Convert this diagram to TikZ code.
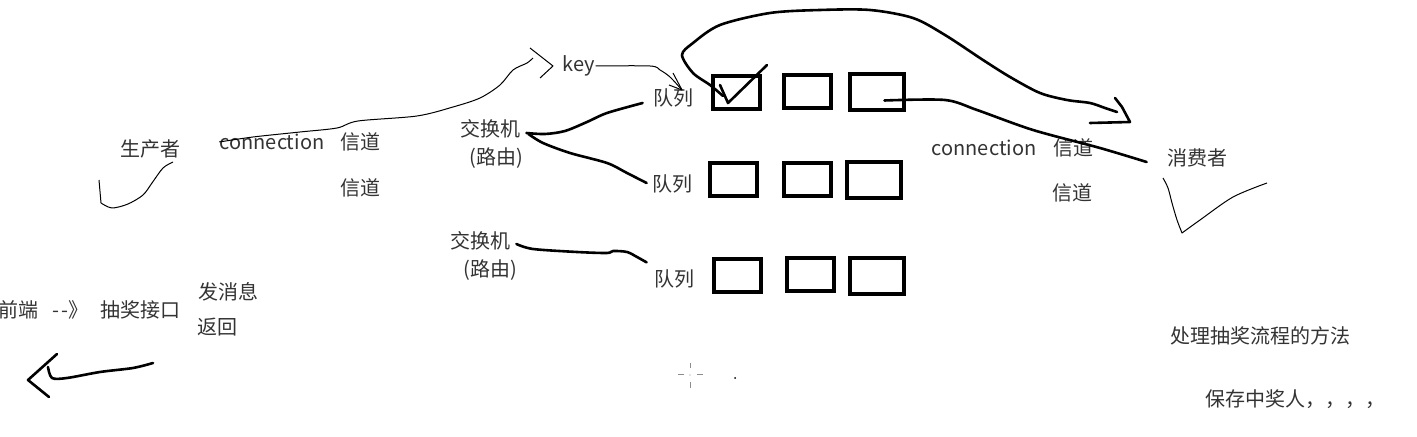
\documentclass[tikz,border=0pt]{standalone}
\usepackage{fontspec}
\setmainfont{Noto Sans CJK SC}
\usetikzlibrary{arrows.meta, positioning, calc}
\tikzset{
	note/.style={inner sep=0pt, text=black!80, font=\fontsize{10}{12}\selectfont},
	qbox/.style={draw=black, line width=2pt, minimum width=23.5pt, minimum height=16.5pt, inner sep=0pt},
	qboxw/.style={qbox, minimum width=27pt, minimum height=18pt},
	fineline/.style={draw=black, line width=0.5pt, line join=round},
	pen/.style={draw=black, line width=1.3pt, line cap=round, line join=round},
	cursor/.style={draw=black!45, line width=0.5pt},
}

\begin{document}
\begin{tikzpicture}[x=0.5pt, y=-0.5pt]
	\useasboundingbox (0,0) rectangle (1417,437);
	% producer side
	\node[note] (prod) at (150,149) {生产者};
	\node[note] (conn1) at (272,142) {connection};
	\node[note] (ch1) at (360,142) {信道};
	\node[note] (ch2) at (360,188) {信道};
	\node[note] (key) at (579,66) {key};
	% exchangers and queues
	\node[note] (ex1) at (490,129) {交换机};
	\node[note] (ex1r) at (496,158) {(路由)};
	\node[note] (ex2) at (480,241) {交换机};
	\node[note] (ex2r) at (490,270) {(路由)};
	\node[note] (q1) at (673,98) {队列};
	\node[note] (q2) at (672,184) {队列};
	\node[note] (q3) at (674,279) {队列};
	\node[qbox] (b11) at (736,93) {};
	\node[qbox] (b12) at (807.5,92) {};
	\node[qboxw] (b13) at (876.5,92.5) {};
	\node[qbox] (b21) at (733.5,180) {};
	\node[qbox] (b22) at (807,179.5) {};
	\node[qboxw] (b23) at (874,180) {};
	\node[qbox] (b31) at (737,276) {};
	\node[qbox] (b32) at (810,275) {};
	\node[qboxw] (b33) at (877,276) {};
	% consumer side
	\node[note] (conn2) at (984,148) {connection};
	\node[note] (ch3) at (1073,148) {信道};
	\node[note] (ch4) at (1072,193) {信道};
	\node[note] (cons) at (1197,158) {消费者};
	% notes
	\node[note, anchor=west] (front) at (-2,310) {前端\hspace{7pt}-\hspace{1pt}-》\hspace{6pt}抽奖接口};
	\node[note] (send) at (228,292) {发消息};
	\node[note] (ret) at (217,327) {返回};
	\node[note] (proc) at (1260,336) {处理抽奖流程的方法};
	\node[note] (save) at (1295,399) {保存中奖人，，，，};

	% thin strokes
	\draw[fineline] plot[smooth] coordinates {(173,162) (163,168) (152,183) (143,195) (128,204) (112,208) (101,203)} -- (99,180);
	\coordinate (ktip) at (553,66);
	\draw[fineline] plot[smooth] coordinates {(conn1.west) (253,137) (300,132) (337,128) (358,121) (417,116) (453,107) (480,98) (500,85) (513,70) (527,63) (533,58)};
	\draw[fineline] (ktip) ++(-23,-18) -- (ktip) -- ++(-13,12);
	\coordinate (qtip) at (682,90);
	\draw[fineline] plot[smooth] coordinates {(key.east) (650,66) (660,70) (670,77) (qtip)};
	\draw[fineline] (qtip) ++(-9,-17) -- (qtip) -- ++(-13,-5);
	\draw[fineline] plot[smooth] coordinates {(1163,178) (1168,188) (1172,203) (1177,220) (1182,233)} -- plot[smooth] coordinates {(1182,233) (1200,220) (1233,197) (1267,183)};

	% thick strokes
	\draw[pen] plot[smooth] coordinates {($(ex1.east)+(6,4)$) (545,134) (565,131) (587,122) (607,113) ($(q1.west)+(-10,5)$)};
	\draw[pen] plot[smooth] coordinates {($(ex1.east)+(8,5)$) (543,143) (570,153) (607,163) (627,173) ($(q2.west)+(-5,-1)$)};
	\draw[pen] plot[smooth] coordinates {($(ex2.east)+(6,3)$) (533,249) (577,252) (607,253) (613,251) (627,252) (637,257) ($(q3.north west)+(-7,-7)$)};
	\draw[pen] ($(b11.center)+(-16,-8)$) -- ($(b11.center)+(-8,10)$) -- ($(b11.center)+(31,-28)$);
	\coordinate (ctip) at (1130,122);
	\draw[pen] plot[smooth] coordinates {($(b11.center)+(-13,3)$) (710,85) (693,73) (682,55) (693,43) (720,25) (770,13) (820,10) (870,10) (913,18) (945,35) (983,60) (1010,77) (1040,93) (1067,100) (1090,103) (1105,108) (1117,112)};
	\draw[pen] (1115,98) -- (1122,107) -- (ctip) -- (1090,123);
	\draw[pen] plot[smooth] coordinates {($(b13.center)+(8,8)$) (945,100) (977,110) (1033,130) (1100,148) ($(cons.west)+(-20,4)$)};
	\coordinate (back) at (28,380);
	\draw[pen] plot[smooth] coordinates {(153,363) (133,368) (100,372) (67,378) (52,378) (48,367)};
	\draw[pen] (back) ++(29,-26) -- (back) -- ++(21,17);

	% cursor marks
	\draw[cursor] (690,363) -- (690,368) (690,382) -- (690,388) (678,375) -- (684,375) (697,375) -- (703,375);
	\fill[black!45] (690,375) circle (0.6);
	\fill[black] (735,378) circle (1);
\end{tikzpicture}
\end{document}
